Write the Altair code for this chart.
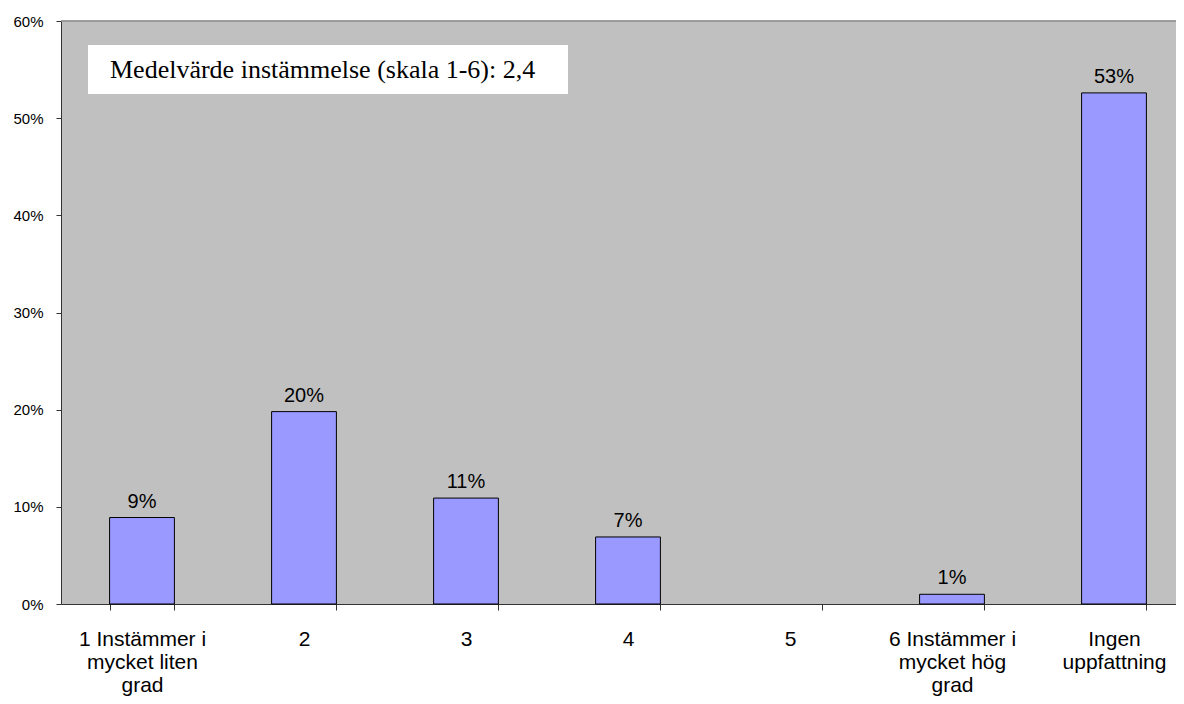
import altair as alt
import pandas as pd

categories = [
    "1 Instämmer i\nmycket liten\ngrad",
    "2",
    "3",
    "4",
    "5",
    "6 Instämmer i\nmycket hög\ngrad",
    "Ingen\nuppfattning",
]
values = [0.089, 0.198, 0.109, 0.069, 0.0, 0.010, 0.526]
value_labels = ["9%", "20%", "11%", "7%", "", "1%", "53%"]
y_ticks = [0.0, 0.1, 0.2, 0.3, 0.4, 0.5, 0.6]
note_text = "Medelvärde instämmelse (skala 1-6): 2,4"

df = pd.DataFrame({"cat": categories, "val": values, "lab": value_labels})
note_df = pd.DataFrame({"t": [note_text]})

x_scale = alt.Scale(range=[0, 1134], paddingInner=0.6, paddingOuter=0.3)

x_enc = alt.X(
    "cat:N",
    sort=categories,
    title=None,
    scale=x_scale,
    axis=alt.Axis(
        labelAngle=0,
        labelExpr="split(datum.label, '\\n')",
        labelFont="Liberation Sans",
        labelFontSize=21,
        labelColor="#000000",
        labelLineHeight=23,
        labelPadding=18,
        labelBaseline="top",
        tickBand="extent",
        tickSize=6,
        tickColor="#333333",
        domainColor="#333333",
        labelLimit=300,
    ),
)
y_enc = alt.Y(
    "val:Q",
    title=None,
    scale=alt.Scale(domain=[0, 0.6], nice=False),
    axis=alt.Axis(
        values=y_ticks,
        format=".0%",
        grid=False,
        labelFont="Liberation Sans",
        labelFontSize=15,
        labelColor="#000000",
        labelPadding=13,
        tickSize=5,
        tickColor="#333333",
        domainColor="#333333",
    ),
)

bars = alt.Chart(df).transform_filter("datum.val > 0").mark_bar(
    fill="#9999FF", stroke="#000000", strokeWidth=1
).encode(x=x_enc, y=y_enc)

labels = alt.Chart(df).mark_text(
    baseline="alphabetic", dy=-10, font="Liberation Sans", fontSize=20, color="#000000"
).encode(x=alt.X("cat:N", sort=categories), y="val:Q", text="lab:N")

box = alt.Chart(note_df).mark_rect(fill="#FFFFFF").encode(
    x=alt.value(27), x2=alt.value(507), y=alt.value(24), y2=alt.value(73)
)
note = alt.Chart(note_df).mark_text(
    align="left", baseline="alphabetic", font="Liberation Serif", fontSize=26, color="#000000"
).encode(x=alt.value(49), y=alt.value(57), text="t:N")

top_border = alt.Chart(note_df).mark_rule(color="#808080", strokeWidth=1.5).encode(
    x=alt.value(0), x2=alt.value(1115), y=alt.value(0)
)

chart = (
    alt.layer(box, note, top_border, bars, labels)
    .properties(
        width=1115,
        height=583,
        autosize=alt.AutoSizeParams(type="none"),
        padding={"left": 53, "top": 13, "right": 0, "bottom": 92},
        background="#FFFFFF",
    )
    .configure_view(fill="#C0C0C0", strokeOpacity=0)
)

chart.save("out.html", embed_options={"renderer": "svg", "actions": False})
